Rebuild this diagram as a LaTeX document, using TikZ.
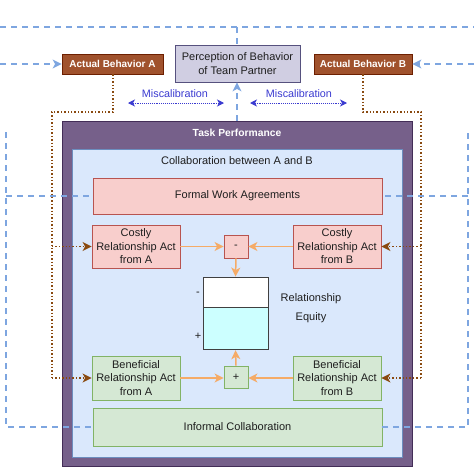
\documentclass[tikz,border=0pt]{standalone}
\usepackage{fontspec}
\setmainfont{Liberation Sans}
\usetikzlibrary{arrows.meta,positioning,calc}
\definecolor{taskfill}{HTML}{76608A}
\definecolor{taskline}{HTML}{432D57}
\definecolor{colfill}{HTML}{DAE8FC}
\definecolor{colline}{HTML}{6C8EBF}
\definecolor{pinkfill}{HTML}{F8CECC}
\definecolor{pinkline}{HTML}{B85450}
\definecolor{greenfill}{HTML}{D5E8D4}
\definecolor{greenline}{HTML}{82B366}
\definecolor{percfill}{HTML}{D0CEE2}
\definecolor{percline}{HTML}{56517E}
\definecolor{actfill}{HTML}{A0522D}
\definecolor{actline}{HTML}{6D1F00}
\definecolor{orangeln}{HTML}{F5AB67}
\definecolor{dashblue}{HTML}{7EA6E0}
\definecolor{browndot}{HTML}{8A4A10}
\definecolor{miscol}{HTML}{3A3AD0}
\definecolor{eqfill}{HTML}{CCFFFF}
\definecolor{txt}{HTML}{1E1E1E}
\tikzset{
  box/.style={draw, line width=0.8pt, align=center, inner sep=1pt, font=\fontsize{11}{13.5}\selectfont, text=txt},
  pinkbox/.style={box, fill=pinkfill, draw=pinkline},
  greenbox/.style={box, fill=greenfill, draw=greenline},
  actbox/.style={draw=actline, fill=actfill, line width=0.8pt, text=white, font=\bfseries\fontsize{10}{12}\selectfont, minimum height=20pt, inner sep=1pt},
  orarrow/.style={draw=orangeln, line width=1.5pt, -{Stealth[length=9pt,width=9pt,inset=2.5pt]}},
  bdash/.style={draw=dashblue, line width=1.2pt, dash pattern=on 6pt off 5pt},
  bdasharrow/.style={bdash, -{Stealth[length=9pt,width=9pt,inset=2.5pt]}},
  brdot/.style={draw=browndot, line width=1.4pt, dotted},
  brdotarrow/.style={brdot, -{Stealth[length=9pt,width=9pt,inset=2.5pt]}},
  misarrow/.style={draw=miscol, line width=0.9pt, densely dotted, {Stealth[length=7pt,width=7pt,inset=2pt]}-{Stealth[length=7pt,width=7pt,inset=2pt]}},
  lbl/.style={font=\fontsize{11}{13}\selectfont, text=txt},
}
\begin{document}
\begin{tikzpicture}[x=1pt,y=-1pt]
\useasboundingbox (0,0) rectangle (474,474);
% outer boxes
\node[draw=taskline, fill=taskfill, line width=1pt, minimum width=350pt, minimum height=345pt, inner sep=0] (task) at (237,293.5) {};
\node[text=white, font=\bfseries\fontsize{10.3}{12}\selectfont] (tasktitle) at (237,133) {Task Performance};
\node[draw=colline, fill=colfill, line width=0.8pt, minimum width=330pt, minimum height=308pt, inner sep=0] (collab) at (237,303) {};
\node[lbl] (collabtitle) at (237,161) {Collaboration between A and B};
% top nodes
\node[actbox, minimum width=101pt] (AA) at (112.5,64) {Actual Behavior A};
\node[actbox, minimum width=98pt] (AB) at (363,64) {Actual Behavior B};
\node[box, fill=percfill, draw=percline, minimum width=125pt, minimum height=37pt] (perc) at (237.5,63.5) {Perception of Behavior\\of Team Partner};
% inner nodes
\node[pinkbox, minimum width=289pt, minimum height=36pt] (formal) at (237.5,196) {Formal Work Agreements};
\node[pinkbox, minimum width=88pt, minimum height=43pt] (CA) at (136,246.5) {Costly\\Relationship Act\\from A};
\node[pinkbox, minimum width=88pt, minimum height=43pt] (CB) at (337,246.5) {Costly\\Relationship Act\\from B};
\node[pinkbox, minimum width=24pt, minimum height=23pt] (minus) at (236,246.5) {-};
\node[greenbox, minimum width=88pt, minimum height=44pt] (BA) at (136,378) {Beneficial\\Relationship Act\\from A};
\node[greenbox, minimum width=88pt, minimum height=44pt] (BB) at (337,378) {Beneficial\\Relationship Act\\from B};
\node[greenbox, minimum width=24pt, minimum height=22pt] (plus) at (236,377) {+};
\node[greenbox, minimum width=289pt, minimum height=38pt] (informal) at (237.5,427) {Informal Collaboration};
% equity
\node[draw=black!75, fill=white, line width=0.8pt, minimum width=65pt, minimum height=30pt, inner sep=0] (eqtop) at (235.5,292) {};
\node[draw=black!75, fill=eqfill, line width=0.8pt, minimum width=65pt, minimum height=42pt, inner sep=0, anchor=north] (eqbot) at (eqtop.south) {};
\node[lbl] (eqminus) at (198,294) {-};
\node[lbl] (eqplus) at (198,336) {+};
\node[lbl] (eqlab1) at (311,299) {Relationship};
\node[lbl] (eqlab2) at (311,318) {Equity};
% orange arrows
\draw[orarrow] (CA.east) -- (minus.west);
\draw[orarrow] (CB.west) -- (minus.east);
\draw[orarrow] (minus.south) -- (eqtop.north);
\draw[orarrow] (BA.east) -- (BA.east -| plus.west);
\draw[orarrow] (BB.west) -- (BB.west -| plus.east);
\draw[orarrow] (plus.north) -- (eqbot.south);
% miscalibration
\node[text=miscol, font=\fontsize{10.8}{12}\selectfont] (mis1) at (175,94) {Miscalibration};
\node[text=miscol, font=\fontsize{10.8}{12}\selectfont] (mis2) at (299,94) {Miscalibration};
\coordinate (m1a) at (128,103); \coordinate (m1b) at (224,103);
\coordinate (m2a) at (250,103); \coordinate (m2b) at (347,103);
\draw[misarrow] (m1a) -- (m1b);
\draw[misarrow] (m2a) -- (m2b);
% blue dashed
\coordinate (tl) at (0,27); \coordinate (tr) at (474,27); \coordinate (tm) at (237,27);
\draw[bdash] (tl) -- (tr);
\draw[bdash] (tm) -- (perc.north -| tm);
\draw[bdasharrow] (task.north -| tm) -- (perc.south -| tm);
\coordinate (lin) at (0,64); \coordinate (rin) at (474,64);
\draw[bdasharrow] (lin) -- (AA.west);
\draw[bdasharrow] (rin) -- (AB.east);
\coordinate (lt) at (6,132); \coordinate (lb) at (6,427); \coordinate (lm) at (6,196);
\draw[bdash] (lt) -- (lb) -- (informal.west);
\draw[bdash] (lm) -- (formal.west);
\coordinate (rt) at (468,133); \coordinate (rb) at (468,427); \coordinate (rm) at (468,196);
\draw[bdash] (rt) -- (rb) -- (informal.east);
\draw[bdash] (rm) -- (formal.east);
% brown dotted
\coordinate (la) at (113,112); \coordinate (lc) at (52,112); \coordinate (ld) at (52,378); \coordinate (le) at (52,246.5);
\draw[brdot] (AA.south -| la) -- (la) -- (lc) -- (ld);
\draw[brdotarrow] (ld) -- (BA.west);
\draw[brdotarrow] (le) -- (CA.west);
\coordinate (ra) at (363,112); \coordinate (rc) at (421,112); \coordinate (rd) at (421,378); \coordinate (re) at (421,246.5);
\draw[brdot] (AB.south -| ra) -- (ra) -- (rc) -- (rd);
\draw[brdotarrow] (rd) -- (BB.east);
\draw[brdotarrow] (re) -- (CB.east);
\end{tikzpicture}
\end{document}
